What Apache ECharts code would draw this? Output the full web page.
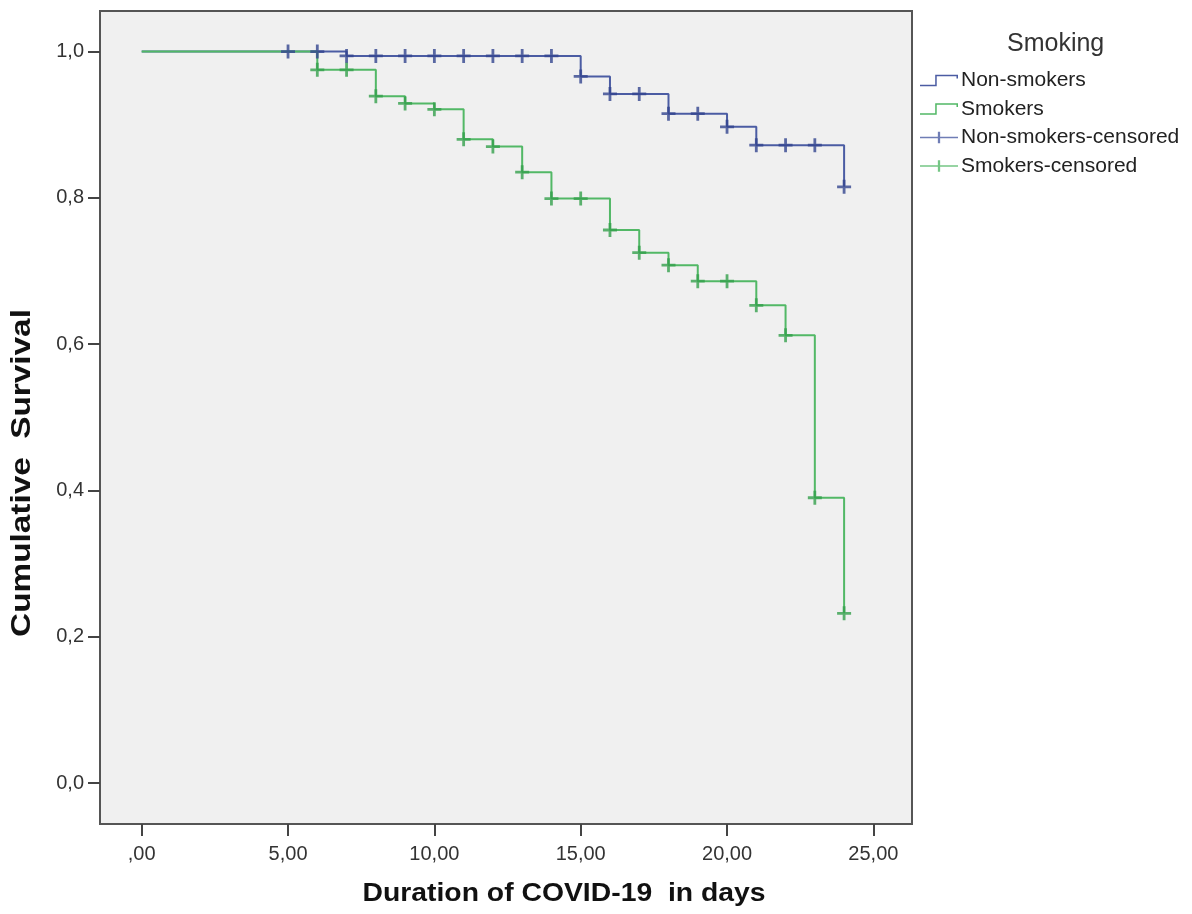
<!DOCTYPE html>
<html>
<head>
<meta charset="utf-8">
<script src="https://cdn.jsdelivr.net/npm/echarts@6/dist/echarts.min.js"></script>
<style>
html, body { margin: 0; padding: 0; background: #fff; }
#main { width: 1192px; height: 914px; }
</style>
</head>
<body>
<div id="main"></div>
<script>
// 生存曲线数据 (Kaplan-Meier)
var nonSmokersTime = [0, 7, 15, 16, 18, 20, 21, 24];
var nonSmokersSurv = [1.0, 0.994, 0.966, 0.942, 0.915, 0.897, 0.872, 0.815];
var smokersTime = [0, 6, 8, 9, 10, 11, 12, 13, 14, 16, 17, 18, 19, 21, 22, 23, 24];
var smokersSurv = [1.0, 0.975, 0.939, 0.929, 0.921, 0.880, 0.870, 0.835, 0.799, 0.756, 0.725, 0.708, 0.686, 0.653, 0.612, 0.390, 0.232];

// 删失点
var nonSmokersCensTime = [5, 6, 7, 8, 9, 10, 11, 12, 13, 14, 15, 16, 17, 18, 19, 20, 21, 22, 23, 24];
var nonSmokersCensSurv = [1.0, 1.0, 0.994, 0.994, 0.994, 0.994, 0.994, 0.994, 0.994, 0.994, 0.966, 0.942, 0.942, 0.915, 0.915, 0.897, 0.872, 0.872, 0.872, 0.815];
var smokersCensTime = [6, 7, 8, 9, 10, 11, 12, 13, 14, 15, 16, 17, 18, 19, 20, 21, 22, 23, 24];
var smokersCensSurv = [0.975, 0.975, 0.939, 0.929, 0.921, 0.880, 0.870, 0.835, 0.799, 0.799, 0.756, 0.725, 0.708, 0.686, 0.686, 0.653, 0.612, 0.390, 0.232];

// 刻度
var xTicks = [0, 5, 10, 15, 20, 25];
var xTickLabels = [',00', '5,00', '10,00', '15,00', '20,00', '25,00'];
var yTicks = [0, 0.2, 0.4, 0.6, 0.8, 1.0];
var yTickLabels = ['0,0', '0,2', '0,4', '0,6', '0,8', '1,0'];

var FONT = "'Liberation Sans', Arial, sans-serif";
var blueLine = '#4b5ca3';
var blueMark = '#33458f';
var greenLine = '#52b866';
var greenMark = '#34a04c';

var plusPath = 'path://M5.6,0 H8.4 V5.6 H14 V8.4 H8.4 V14 H5.6 V8.4 H0 V5.6 H5.6 Z';
var stepIcon = 'path://M0,10.4 H16 V0 H40 V4 H38.4 V1.6 H17.6 V12 H0 Z';
var crossIcon = 'path://M0,5.2 H18.8 V0 H21.2 V5.2 H40 V6.8 H21.2 V12 H18.8 V6.8 H0 Z';

function zip(xs, ys) {
	var out = [];
	for (var i = 0; i < xs.length; i++) {
		out.push([xs[i], ys[i]]);
	}
	return out;
}

var myChart = echarts.init(document.getElementById('main'));
var option = {
	backgroundColor: '#ffffff',
	animation: false,
	title: {
		text: 'Smoking',
		left: 1002,
		top: 27,
		textStyle: { fontFamily: FONT, fontSize: 25, fontWeight: 'normal', color: '#333' }
	},
	legend: {
		orient: 'vertical',
		left: 920,
		top: 70,
		padding: 0,
		itemWidth: 38,
		itemHeight: 13,
		itemGap: 7.5,
		textStyle: { fontFamily: FONT, fontSize: 21, color: '#222', lineHeight: 20, padding: [0, 0, 0, -2] },
		data: [
			{ name: 'Non-smokers', icon: stepIcon, itemStyle: { color: blueLine } },
			{ name: 'Smokers', icon: stepIcon, itemStyle: { color: greenLine } },
			{ name: 'Non-smokers-censored', icon: crossIcon, itemStyle: { color: blueLine } },
			{ name: 'Smokers-censored', icon: crossIcon, itemStyle: { color: greenLine } }
		]
	},
	grid: {
		left: 100,
		top: 11,
		width: 812,
		height: 813,
		show: true,
		backgroundColor: '#f0f0f0',
		borderColor: '#555',
		borderWidth: 2
	},
	xAxis: {
		type: 'value',
		min: -1.425,
		max: 26.32,
		axisLine: { show: false, onZero: false },
		splitLine: { show: false },
		axisTick: {
			show: true,
			length: 12,
			customValues: xTicks,
			lineStyle: { color: '#444', width: 2 }
		},
		axisLabel: {
			customValues: xTicks,
			margin: 20,
			fontFamily: FONT,
			fontSize: 20,
			color: '#333',
			formatter: function (v) {
				return xTickLabels[xTicks.indexOf(v)];
			}
		}
	},
	yAxis: {
		type: 'value',
		min: -0.056,
		max: 1.0554,
		axisLine: { show: false, onZero: false },
		splitLine: { show: false },
		axisTick: {
			show: true,
			length: 12,
			customValues: yTicks,
			lineStyle: { color: '#444', width: 2 }
		},
		axisLabel: {
			customValues: yTicks,
			margin: 16,
			fontFamily: FONT,
			fontSize: 20,
			color: '#333',
			formatter: function (v) {
				for (var i = 0; i < yTicks.length; i++) {
					if (Math.abs(yTicks[i] - v) < 1e-6) return yTickLabels[i];
				}
				return '';
			}
		}
	},
	graphic: [
		{
			type: 'text',
			x: 22,
			y: 473,
			rotation: Math.PI / 2,
			scaleX: 1.19,
			style: {
				text: 'Cumulative  Survival',
				fontFamily: FONT,
				fontSize: 28,
				fontWeight: 'bold',
				fill: '#111',
				align: 'center',
				verticalAlign: 'middle'
			}
		},
		{
			type: 'text',
			x: 564,
			y: 894,
			scaleX: 1.09,
			style: {
				text: 'Duration of COVID-19  in days',
				fontFamily: FONT,
				fontSize: 26,
				fontWeight: 'bold',
				fill: '#111',
				align: 'center',
				verticalAlign: 'middle'
			}
		}
	],
	series: [
		{
			name: 'Non-smokers',
			type: 'line',
			step: 'end',
			color: blueLine,
			showSymbol: false,
			lineStyle: { color: blueLine, width: 2 },
			data: zip(nonSmokersTime, nonSmokersSurv),
			z: 2
		},
		{
			name: 'Smokers',
			type: 'line',
			step: 'end',
			color: greenLine,
			showSymbol: false,
			lineStyle: { color: greenLine, width: 2 },
			data: zip(smokersTime, smokersSurv),
			z: 3
		},
		{
			name: 'Non-smokers-censored',
			type: 'scatter',
			color: blueLine,
			symbol: plusPath,
			symbolSize: 14,
			itemStyle: { color: blueMark },
			data: zip(nonSmokersCensTime, nonSmokersCensSurv),
			z: 4
		},
		{
			name: 'Smokers-censored',
			type: 'scatter',
			color: greenLine,
			symbol: plusPath,
			symbolSize: 14,
			itemStyle: { color: greenMark },
			data: zip(smokersCensTime, smokersCensSurv),
			z: 5
		}
	]
};
myChart.setOption(option);
</script>
</body>
</html>
